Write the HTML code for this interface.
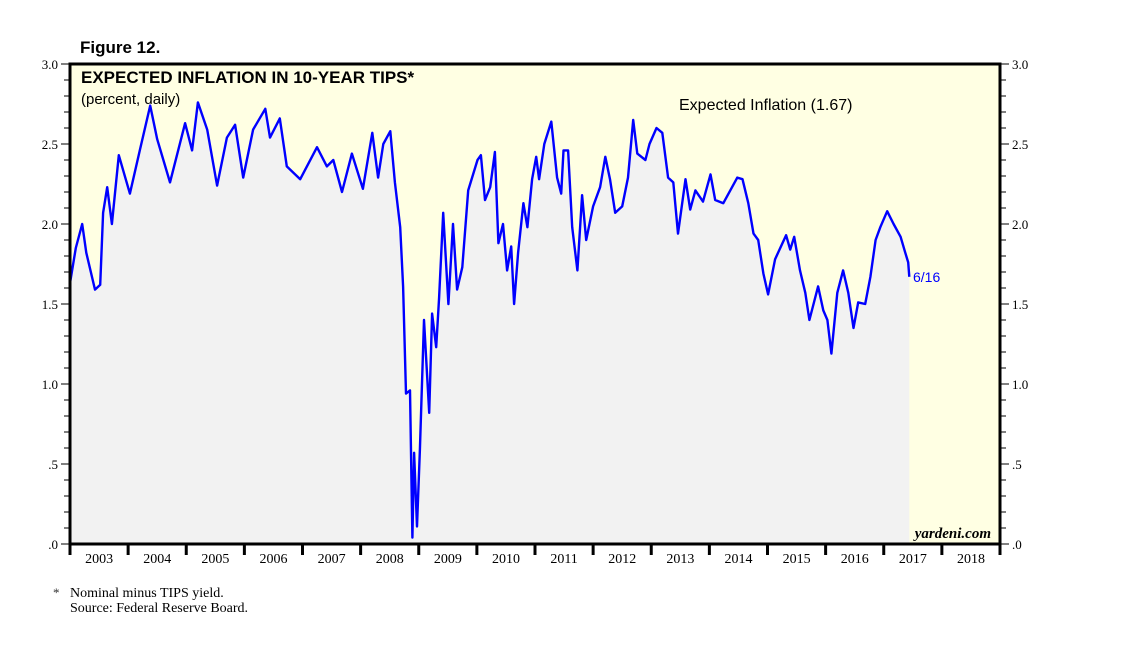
<!DOCTYPE html>
<html><head><meta charset="utf-8"><style>
body{margin:0;background:#fff;width:1138px;height:641px;overflow:hidden;font-family:"Liberation Sans",sans-serif}
</style></head><body>
<svg width="1138" height="641" viewBox="0 0 1138 641">
<text x="80" y="53" font-size="17" font-weight="bold" font-family="Liberation Sans">Figure 12.</text>
<rect x="70" y="64" width="930" height="480" fill="#ffffe3"/>
<path id="area" fill="#f2f2f2"/>
<path id="line" fill="none" stroke="#0000ff" stroke-width="2.4" stroke-linejoin="round"/>
<g id="axes"></g>
<rect x="70" y="64" width="930" height="480" fill="none" stroke="#000" stroke-width="3"/>
<text x="81" y="83" font-size="17" font-weight="bold">EXPECTED INFLATION IN 10-YEAR TIPS*</text>
<text x="81" y="104" font-size="15">(percent, daily)</text>
<text x="679" y="110" font-size="16">Expected Inflation (1.67)</text>
<text x="913" y="282" font-size="14" fill="#0000ff">6/16</text>
<text x="991" y="538" font-size="15" font-style="italic" font-weight="bold" font-family="Liberation Serif" text-anchor="end">yardeni.com</text>
<text x="53" y="597" font-size="13" font-family="Liberation Serif" fill="#333">*</text>
<text x="70" y="597" font-size="14" font-family="Liberation Serif">Nominal minus TIPS yield.</text>
<text x="70" y="612" font-size="14" font-family="Liberation Serif">Source: Federal Reserve Board.</text>
</svg>
<script>
const dates=[2003.00,2003.10,2003.21,2003.28,2003.43,2003.52,2003.57,2003.64,2003.72,2003.84,2004.03,2004.20,2004.38,2004.50,2004.72,2004.98,2005.10,2005.20,2005.36,2005.53,2005.70,2005.84,2005.98,2006.15,2006.36,2006.44,2006.61,2006.73,2006.96,2007.25,2007.42,2007.53,2007.68,2007.85,2008.04,2008.20,2008.30,2008.39,2008.51,2008.59,2008.68,2008.73,2008.78,2008.85,2008.89,2008.92,2008.97,2009.02,2009.09,2009.18,2009.23,2009.30,2009.35,2009.42,2009.51,2009.59,2009.66,2009.75,2009.85,2010.01,2010.07,2010.14,2010.23,2010.31,2010.37,2010.45,2010.52,2010.59,2010.64,2010.71,2010.80,2010.87,2010.95,2011.02,2011.07,2011.16,2011.28,2011.38,2011.45,2011.49,2011.57,2011.64,2011.73,2011.81,2011.88,2012.00,2012.12,2012.21,2012.29,2012.38,2012.50,2012.60,2012.69,2012.76,2012.90,2012.97,2013.09,2013.19,2013.29,2013.38,2013.46,2013.59,2013.67,2013.76,2013.89,2014.02,2014.10,2014.24,2014.48,2014.57,2014.67,2014.76,2014.84,2014.93,2015.01,2015.13,2015.32,2015.39,2015.46,2015.56,2015.65,2015.72,2015.87,2015.96,2016.03,2016.10,2016.20,2016.30,2016.39,2016.48,2016.56,2016.68,2016.77,2016.86,2016.94,2017.06,2017.17,2017.29,2017.37,2017.42,2017.44];
const values=[1.63,1.85,2.0,1.82,1.59,1.62,2.07,2.23,2.0,2.43,2.19,2.46,2.74,2.53,2.26,2.63,2.46,2.76,2.59,2.24,2.54,2.62,2.29,2.59,2.72,2.54,2.66,2.36,2.28,2.48,2.36,2.4,2.2,2.44,2.22,2.57,2.29,2.5,2.58,2.26,1.98,1.61,0.94,0.96,0.04,0.57,0.11,0.59,1.4,0.82,1.44,1.23,1.54,2.07,1.5,2.0,1.59,1.73,2.21,2.4,2.43,2.15,2.23,2.45,1.88,2.0,1.71,1.86,1.5,1.82,2.13,1.98,2.28,2.42,2.28,2.5,2.64,2.29,2.19,2.46,2.46,1.98,1.71,2.18,1.9,2.11,2.23,2.42,2.28,2.07,2.11,2.29,2.65,2.44,2.4,2.5,2.6,2.57,2.29,2.26,1.94,2.28,2.09,2.21,2.14,2.31,2.15,2.13,2.29,2.28,2.13,1.94,1.9,1.69,1.56,1.78,1.93,1.84,1.92,1.71,1.57,1.4,1.61,1.46,1.4,1.19,1.57,1.71,1.57,1.35,1.51,1.5,1.67,1.9,1.98,2.08,2.0,1.92,1.82,1.76,1.67];
const yearLabels=["2003","2004","2005","2006","2007","2008","2009","2010","2011","2012","2013","2014","2015","2016","2017","2018"];
const yTicks=[0,0.5,1,1.5,2,2.5,3];
const yTickLabels=[".0",".5","1.0","1.5","2.0","2.5","3.0"];
const X0=70,X1=1000,Y0=544,Y1=64;
const xs=d=>X0+(d-2003)*(X1-X0)/16;
const ys=v=>Y0-(v/3)*(Y0-Y1);
let p="";dates.forEach((d,i)=>{p+=(i?"L":"M")+xs(d).toFixed(1)+","+ys(values[i]).toFixed(1)});
document.getElementById('line').setAttribute('d',p);
document.getElementById('area').setAttribute('d',p+"L"+xs(dates[dates.length-1]).toFixed(1)+","+Y0+"L"+X0+","+Y0+"Z");
const g=document.getElementById('axes');const NS="http://www.w3.org/2000/svg";
function mk(t,a){const e=document.createElementNS(NS,t);for(const k in a)e.setAttribute(k,a[k]);g.appendChild(e);return e;}
for(let i=0;i<=30;i++){const y=ys(i/10);const L=i%5==0?9:6;
 let e=mk('line',{x1:X0-L,x2:X0,y1:y,y2:y,stroke:'#000','stroke-width':1});
 
 
 e=mk('line',{x1:X1,x2:X1+L,y1:y,y2:y,stroke:'#000','stroke-width':1});
 
 }
yTicks.forEach((v,i)=>{
 let t=mk('text',{x:X0-12,y:ys(v)+5,'text-anchor':'end','font-size':13,'font-family':'Liberation Serif'});t.textContent=yTickLabels[i];
 
 
 t=mk('text',{x:X1+12,y:ys(v)+5,'font-size':13,'font-family':'Liberation Serif'});t.textContent=yTickLabels[i];
 
 });
yearLabels.forEach((l,i)=>{const yr=2003+i;
 const e=mk('line',{x1:xs(yr),x2:xs(yr),y1:Y0,y2:Y0+11,stroke:'#000','stroke-width':3});
 
 
 const t=mk('text',{x:xs(yr+0.5),y:Y0+19,'text-anchor':'middle','font-size':14,'font-family':'Liberation Serif'});t.textContent=l;
 
 });
const e=mk('line',{x1:X1,x2:X1,y1:Y0,y2:Y0+11,stroke:'#000','stroke-width':3});


</script>
</body></html>
